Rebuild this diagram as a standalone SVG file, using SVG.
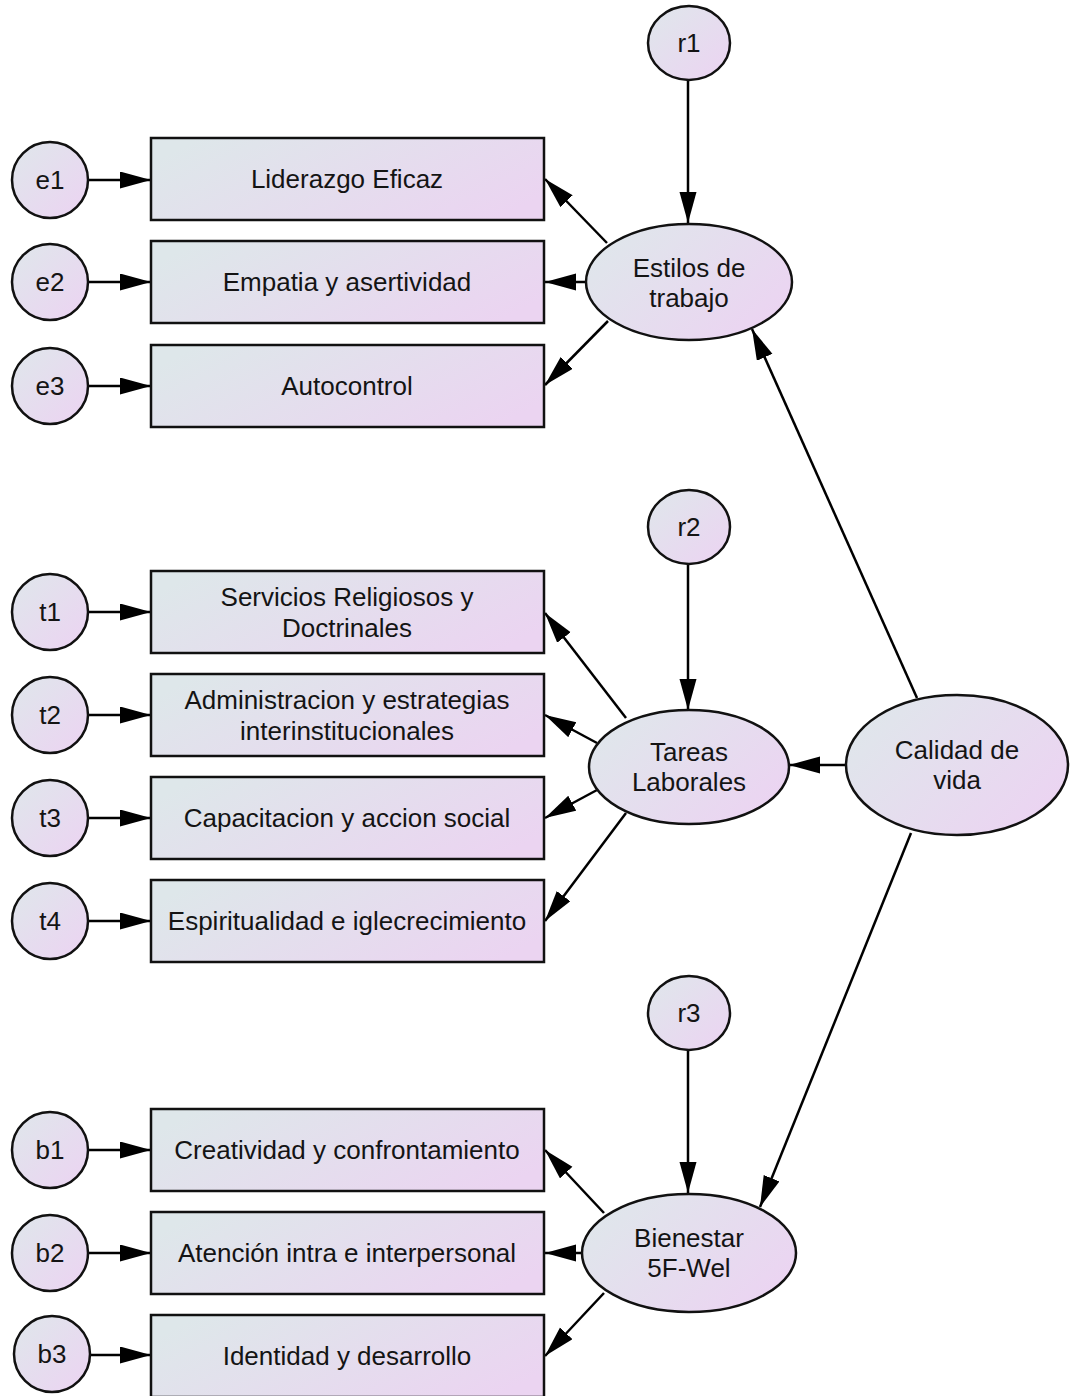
<svg xmlns="http://www.w3.org/2000/svg" width="1073" height="1396" viewBox="0 0 1073 1396">
<style>
.box{stroke:#111;stroke-width:2.5;fill:url(#gr)}
.lat{stroke:#111;stroke-width:2.5;fill:url(#gc)}
.ell{stroke:#111;stroke-width:2.5;fill:url(#ge)}
.t{font-family:"Liberation Sans",Arial,Helvetica,sans-serif;font-size:26px;fill:#141414;text-anchor:middle}
.c line{stroke:#000;stroke-width:2.5;marker-end:url(#ah)}
</style>
<defs>
<linearGradient id="gc" x1="0" y1="0" x2="1" y2="1">
<stop offset="0" stop-color="#dfe7eb"/>
<stop offset="1" stop-color="#ecd3f2"/>
</linearGradient>
<linearGradient id="gr" x1="0" y1="0.3" x2="1" y2="0.7">
<stop offset="0" stop-color="#dee7ea"/>
<stop offset="1" stop-color="#ebd4f1"/>
</linearGradient>
<linearGradient id="ge" x1="0" y1="0.2" x2="1" y2="0.8">
<stop offset="0" stop-color="#dfe7eb"/>
<stop offset="1" stop-color="#ecd3f2"/>
</linearGradient>
<marker id="ah" markerUnits="userSpaceOnUse" markerWidth="32" markerHeight="18" refX="31" refY="8.5" orient="auto">
<path d="M0,0 L31,8.5 L0,17 z" fill="#000"/>
</marker>
</defs>
<rect width="1073" height="1396" fill="#fff"/>
<g id="connectors" class="c">
<line x1="89" y1="180" x2="151" y2="180"/>
<line x1="89" y1="282" x2="151" y2="282"/>
<line x1="89" y1="386" x2="151" y2="386"/>
<line x1="89" y1="612" x2="151" y2="612"/>
<line x1="89" y1="715" x2="151" y2="715"/>
<line x1="89" y1="818" x2="151" y2="818"/>
<line x1="89" y1="921" x2="151" y2="921"/>
<line x1="89" y1="1150" x2="151" y2="1150"/>
<line x1="89" y1="1253" x2="151" y2="1253"/>
<line x1="91" y1="1355" x2="151" y2="1355"/>
<line x1="688" y1="80" x2="688" y2="223"/>
<line x1="688" y1="565" x2="688" y2="710"/>
<line x1="688" y1="1051" x2="688" y2="1193"/>
<line x1="607" y1="243" x2="545" y2="179"/>
<line x1="586" y1="282" x2="545" y2="282"/>
<line x1="608" y1="321" x2="545" y2="385"/>
<line x1="626" y1="718" x2="545" y2="613"/>
<line x1="597" y1="743" x2="545" y2="715"/>
<line x1="597" y1="790" x2="545" y2="818"/>
<line x1="626" y1="813" x2="545" y2="921"/>
<line x1="604" y1="1213" x2="545" y2="1150"/>
<line x1="582" y1="1253" x2="545" y2="1253"/>
<line x1="604" y1="1293" x2="545" y2="1356"/>
<line x1="917" y1="698" x2="752" y2="329"/>
<line x1="845" y1="765" x2="789" y2="765"/>
<line x1="911" y1="833" x2="760" y2="1207"/>
</g>
<g id="e1"><circle class="lat" cx="50" cy="180" r="38"/><text class="t" x="50" y="189">e1</text></g>
<g id="e2"><circle class="lat" cx="50" cy="282" r="38"/><text class="t" x="50" y="291">e2</text></g>
<g id="e3"><circle class="lat" cx="50" cy="386" r="38"/><text class="t" x="50" y="395">e3</text></g>
<g id="t1"><circle class="lat" cx="50" cy="612" r="38"/><text class="t" x="50" y="621">t1</text></g>
<g id="t2"><circle class="lat" cx="50" cy="715" r="38"/><text class="t" x="50" y="724">t2</text></g>
<g id="t3"><circle class="lat" cx="50" cy="818" r="38"/><text class="t" x="50" y="827">t3</text></g>
<g id="t4"><circle class="lat" cx="50" cy="921" r="38"/><text class="t" x="50" y="930">t4</text></g>
<g id="b1"><circle class="lat" cx="50" cy="1150" r="38"/><text class="t" x="50" y="1159">b1</text></g>
<g id="b2"><circle class="lat" cx="50" cy="1253" r="38"/><text class="t" x="50" y="1262">b2</text></g>
<g id="b3"><circle class="lat" cx="52" cy="1354" r="38"/><text class="t" x="52" y="1363">b3</text></g>
<g id="r1"><ellipse class="lat" cx="689" cy="43" rx="41" ry="37"/><text class="t" x="689" y="52">r1</text></g>
<g id="r2"><ellipse class="lat" cx="689" cy="527" rx="41" ry="37"/><text class="t" x="689" y="536">r2</text></g>
<g id="r3"><ellipse class="lat" cx="689" cy="1013" rx="41" ry="37"/><text class="t" x="689" y="1022">r3</text></g>
<g id="liderazgo"><rect class="box" x="151" y="138" width="393" height="82"/><text class="t" x="347" y="188">Liderazgo Eficaz</text></g>
<g id="empatia"><rect class="box" x="151" y="241" width="393" height="82"/><text class="t" x="347" y="291">Empatia y asertividad</text></g>
<g id="autocontrol"><rect class="box" x="151" y="345" width="393" height="82"/><text class="t" x="347" y="395">Autocontrol</text></g>
<g id="servicios"><rect class="box" x="151" y="571" width="393" height="82"/><text class="t" x="347" y="606">Servicios Religiosos y</text><text class="t" x="347" y="637">Doctrinales</text></g>
<g id="administracion"><rect class="box" x="151" y="674" width="393" height="82"/><text class="t" x="347" y="709">Administracion y estrategias</text><text class="t" x="347" y="740">interinstitucionales</text></g>
<g id="capacitacion"><rect class="box" x="151" y="777" width="393" height="82"/><text class="t" x="347" y="827">Capacitacion y accion social</text></g>
<g id="espiritualidad"><rect class="box" x="151" y="880" width="393" height="82"/><text class="t" x="347" y="930">Espiritualidad e iglecrecimiento</text></g>
<g id="creatividad"><rect class="box" x="151" y="1109" width="393" height="82"/><text class="t" x="347" y="1159">Creatividad y confrontamiento</text></g>
<g id="atencion"><rect class="box" x="151" y="1212" width="393" height="82"/><text class="t" x="347" y="1262">Atención intra e interpersonal</text></g>
<g id="identidad"><rect class="box" x="151" y="1315" width="393" height="82"/><text class="t" x="347" y="1365">Identidad y desarrollo</text></g>
<g id="estilos"><ellipse class="ell" cx="689" cy="282" rx="103" ry="58"/><text class="t" x="689" y="277">Estilos de</text><text class="t" x="689" y="307">trabajo</text></g>
<g id="tareas"><ellipse class="ell" cx="689" cy="767" rx="100" ry="57"/><text class="t" x="689" y="761">Tareas</text><text class="t" x="689" y="791">Laborales</text></g>
<g id="bienestar"><ellipse class="ell" cx="689" cy="1253" rx="107" ry="59"/><text class="t" x="689" y="1247">Bienestar</text><text class="t" x="689" y="1277">5F-Wel</text></g>
<g id="calidad"><ellipse class="ell" cx="957" cy="765" rx="111" ry="70"/><text class="t" x="957" y="759">Calidad de</text><text class="t" x="957" y="789">vida</text></g>
</svg>
